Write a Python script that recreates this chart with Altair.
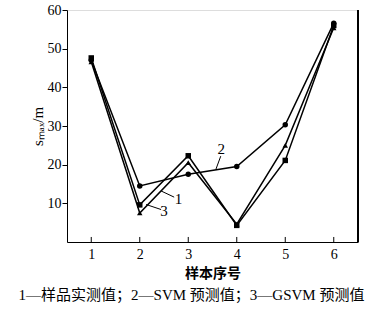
import altair as alt
import pandas as pd

samples = [1, 2, 3, 4, 5, 6]
measured = [47.6, 9.6, 22.3, 4.3, 21.1, 56.0]
svm = [47.0, 14.5, 17.5, 19.5, 30.3, 56.6]
gsvm = [46.6, 7.5, 20.5, 4.6, 25.0, 55.4]
series_names = ["1", "2", "3"]
series_shapes = ["square", "circle", "triangle-up"]
y_ticks = [10, 20, 30, 40, 50, 60]

# annotation labels and leader lines (data units)
label_text = ["1", "3", "2"]
label_x = [2.8, 2.5, 3.68]
label_y = [11.2, 8.1, 24.0]
leader_x = [2.44, 2.13, 3.57]
leader_y = [13.2, 9.7, 18.8]
leader_x2 = [2.71, 2.44, 3.67]
leader_y2 = [11.6, 8.4, 22.2]

SERIF = "Liberation Serif, Noto Sans CJK SC"

rows = []
for name, vals in zip(series_names, [measured, svm, gsvm]):
    for s, v in zip(samples, vals):
        rows.append({"sample": s, "value": v, "series": name})
df = pd.DataFrame(rows)

x_scale = alt.Scale(domain=[0.5, 6.5], nice=False, zero=False)
y_scale = alt.Scale(domain=[0, 60], nice=False, zero=False)

x_enc = alt.X(
    "sample:Q", scale=x_scale,
    axis=alt.Axis(values=samples, format="d", title="样本序号", tickSize=0,
                  labelPadding=5, labelFont=SERIF, labelFontSize=14,
                  titleFont="Noto Sans CJK SC", titleFontSize=14, titleFontWeight="bold",
                  titlePadding=5, domainColor="black", grid=False, labelColor="black",
                  titleColor="black"))
y_enc = alt.Y(
    "value:Q", scale=y_scale,
    axis=alt.Axis(values=y_ticks, title="sₘₐₓ/m", tickSize=5, tickColor="black",
                  labelPadding=1, labelFont=SERIF, labelFontSize=14,
                  titleFont=SERIF, titleFontSize=15, titleFontWeight="normal",
                  titlePadding=2, domainColor="black", grid=False, labelColor="black",
                  titleColor="black"))

base = alt.Chart(df)
lines = base.mark_line(color="black", strokeWidth=1.5).encode(
    x=x_enc, y=y_enc, detail="series:N")
points = base.mark_point(filled=True, color="black", opacity=1, size=30).encode(
    x="sample:Q", y="value:Q",
    shape=alt.Shape("series:N", scale=alt.Scale(domain=series_names, range=series_shapes),
                    legend=None))

ticks_df = pd.DataFrame({"sample": samples, "y0": [0] * 6, "y1": [1.3] * 6})
xticks = alt.Chart(ticks_df).mark_rule(color="black", strokeWidth=1).encode(
    x="sample:Q", y="y0:Q", y2="y1:Q")

right_df = pd.DataFrame({"x": [6.5], "y0": [0], "y1": [60]})
right_border = alt.Chart(right_df).mark_rule(color="black", strokeWidth=2).encode(
    x="x:Q", y="y0:Q", y2="y1:Q")

lead_df = pd.DataFrame({"x": leader_x, "y": leader_y, "x2": leader_x2, "y2": leader_y2})
leaders = alt.Chart(lead_df).mark_rule(color="black", strokeWidth=1).encode(
    x="x:Q", y="y:Q", x2="x2:Q", y2="y2:Q")

lab_df = pd.DataFrame({"x": label_x, "y": label_y, "t": label_text})
labels = alt.Chart(lab_df).mark_text(font=SERIF, fontSize=15, color="black").encode(
    x="x:Q", y="y:Q", text="t:N")

chart = alt.layer(lines, xticks, right_border, leaders, labels, points).properties(
    width=291, height=232,
    autosize=alt.AutoSizeParams(type="none"),
    padding={"left": 67, "top": 10, "right": 14, "bottom": 71},
    title=alt.TitleParams(
        "1—样品实测值；2—SVM 预测值；3—GSVM 预测值",
        orient="bottom", anchor="middle", font=SERIF, fontSize=15,
        fontWeight="normal", color="black", offset=8, dx=-21),
).configure_view(stroke="#888888", strokeWidth=1).configure(background="white")

chart.save("out.html", embed_options={"renderer": "svg", "actions": False})
